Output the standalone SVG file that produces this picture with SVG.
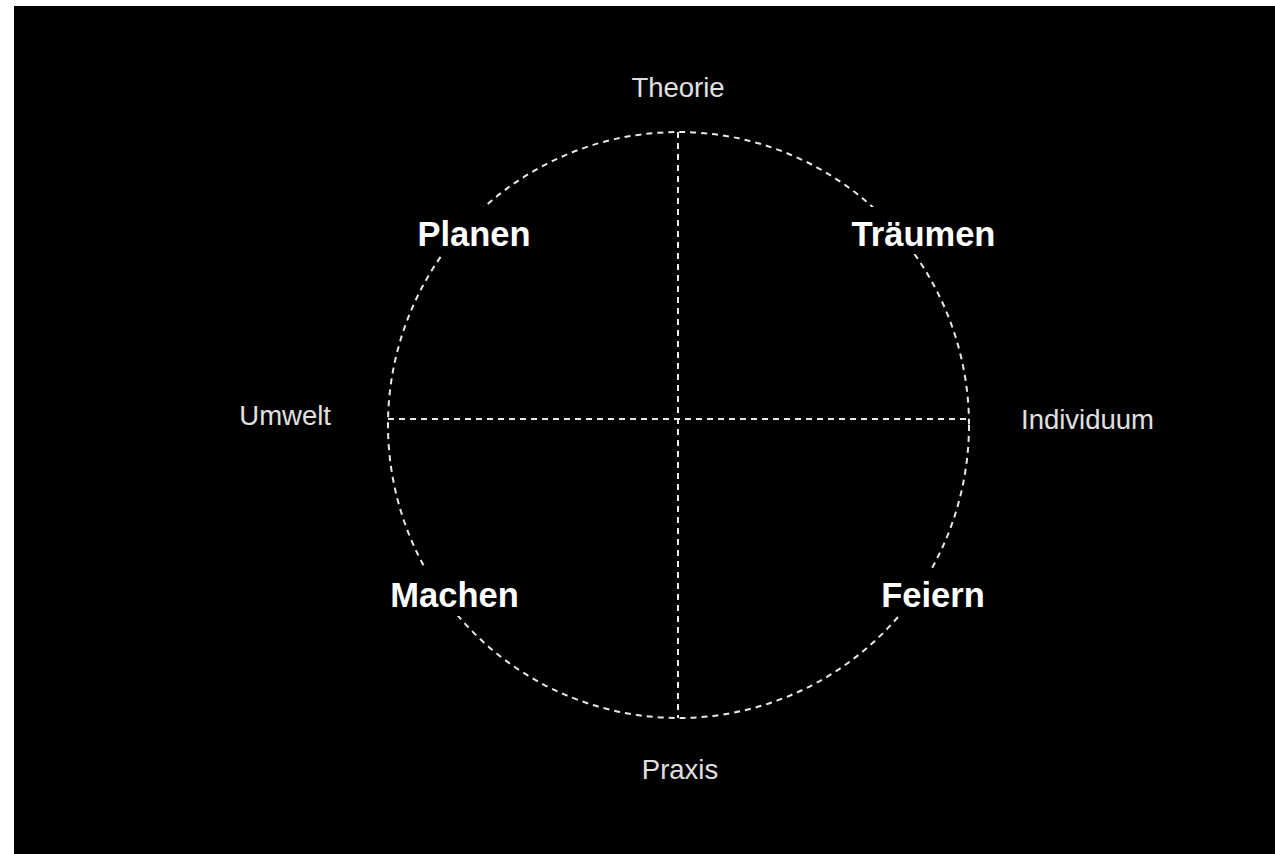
<svg xmlns="http://www.w3.org/2000/svg" width="1275" height="854" viewBox="0 0 1275 854">
<style>
.dash{fill:none;stroke:#e8e8e8;stroke-width:2;stroke-dasharray:6 5}
.big{font-family:"Liberation Sans",Arial,sans-serif;font-weight:bold;font-size:34.5px;fill:#ffffff}
.small{font-family:"Liberation Sans",Arial,sans-serif;font-size:27.5px;fill:#e0e0e0}
.mask{fill:#000000}
</style>
<rect x="0" y="0" width="1275" height="854" fill="#ffffff"/>
<rect x="14" y="6" width="1261" height="848" fill="#000000"/>
<g id="connectors">
<ellipse class="dash" cx="678.5" cy="425" rx="290.5" ry="293"/>
<line class="dash" x1="678" y1="132" x2="678" y2="718"/>
<line class="dash" x1="388" y1="419" x2="969" y2="419"/>
</g>
<g id="theorie"><text class="small" x="678" y="97" text-anchor="middle">Theorie</text></g>
<g id="praxis"><text class="small" x="680" y="779" text-anchor="middle">Praxis</text></g>
<g id="umwelt"><text class="small" x="331" y="425" text-anchor="end">Umwelt</text></g>
<g id="individuum"><text class="small" x="1021" y="429">Individuum</text></g>
<g id="planen"><rect class="mask" x="408" y="207" width="134" height="47"/><text class="big" x="474" y="246" text-anchor="middle">Planen</text></g>
<g id="traeumen"><rect class="mask" x="842" y="207" width="164" height="47"/><text class="big" x="923.5" y="246" text-anchor="middle">Träumen</text></g>
<g id="machen"><rect class="mask" x="380" y="569" width="150" height="47"/><text class="big" x="454.5" y="607" text-anchor="middle">Machen</text></g>
<g id="feiern"><rect class="mask" x="872" y="569" width="122" height="47"/><text class="big" x="933" y="607" text-anchor="middle">Feiern</text></g>
</svg>
